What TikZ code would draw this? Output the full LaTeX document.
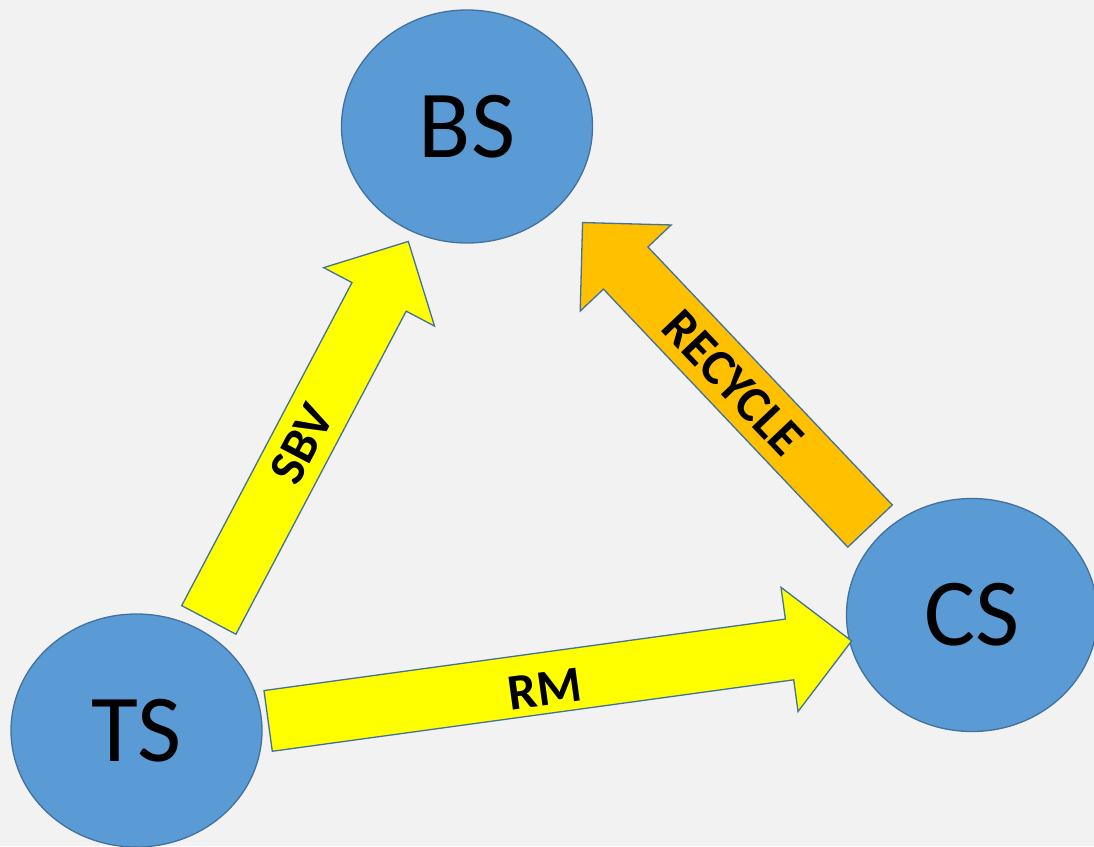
\documentclass[tikz,border=0pt]{standalone}
\usepackage{fontspec}
\setmainfont{Carlito}
\usetikzlibrary{shapes.geometric,shapes.arrows,calc}
\definecolor{bg}{HTML}{F2F2F2}
\definecolor{circfill}{HTML}{5B9BD5}
\definecolor{edgeblue}{HTML}{41719C}
\definecolor{arrowyellow}{HTML}{FFFF00}
\definecolor{arroworange}{HTML}{FFC000}
\tikzset{
  station/.style={ellipse, draw=edgeblue, fill=circfill, line width=1.3pt,
    minimum width=251pt, minimum height=233pt, inner sep=0pt,
    font=\fontsize{96}{96}\selectfont},
  blockarrow/.style={single arrow, draw=edgeblue, line width=1.3pt,
    inner xsep=0pt, inner ysep=30pt, single arrow head extend=32pt, anchor=tail},
  arrowlabel/.style={font=\bfseries\fontsize{51}{51}\selectfont, inner sep=0pt}
}
\begin{document}
\begin{tikzpicture}[x=1pt,y=-1pt]
\fill[bg] (0,0) rectangle (1094,846);
\useasboundingbox (0,0) rectangle (1094,846);
% stations
\node[station] (BS) at (467,126.5) {BS};
\node[station] (CS) at (972,615) {CS};
\node[station] (TS) at (136.5,730.5) {TS};
% arrow end points
\coordinate (sbvtail) at (208.5,620.5);
\coordinate (sbvtip) at (408,242);
\coordinate (rmtail) at (267.5,721);
\coordinate (rmtip) at (851,641);
\coordinate (rectail) at (870.5,526.5);
\coordinate (rectip) at (583,223);
% block arrows
\path let \p1=($(sbvtip)-(sbvtail)$) in
  node[blockarrow, fill=arrowyellow, rotate={atan2(\y1,\x1)}, minimum height={veclen(\x1,\y1)}] (sbv) at (sbvtail) {};
\path let \p1=($(rmtip)-(rmtail)$) in
  node[blockarrow, fill=arrowyellow, rotate={atan2(\y1,\x1)}, minimum height={veclen(\x1,\y1)}] (rm) at (rmtail) {};
\path let \p1=($(rectip)-(rectail)$) in
  node[blockarrow, fill=arroworange, rotate={atan2(\y1,\x1)}, minimum height={veclen(\x1,\y1)}] (rec) at (rectail) {};
% labels
\node[arrowlabel, rotate=62.3] (sbvlabel) at (302,444) {SBV};
\node[arrowlabel, rotate=7.8] (rmlabel) at (545,689) {RM};
\node[arrowlabel, rotate=-46.5] (reclabel) at (733,383) {RECYCLE};
\end{tikzpicture}
\end{document}
